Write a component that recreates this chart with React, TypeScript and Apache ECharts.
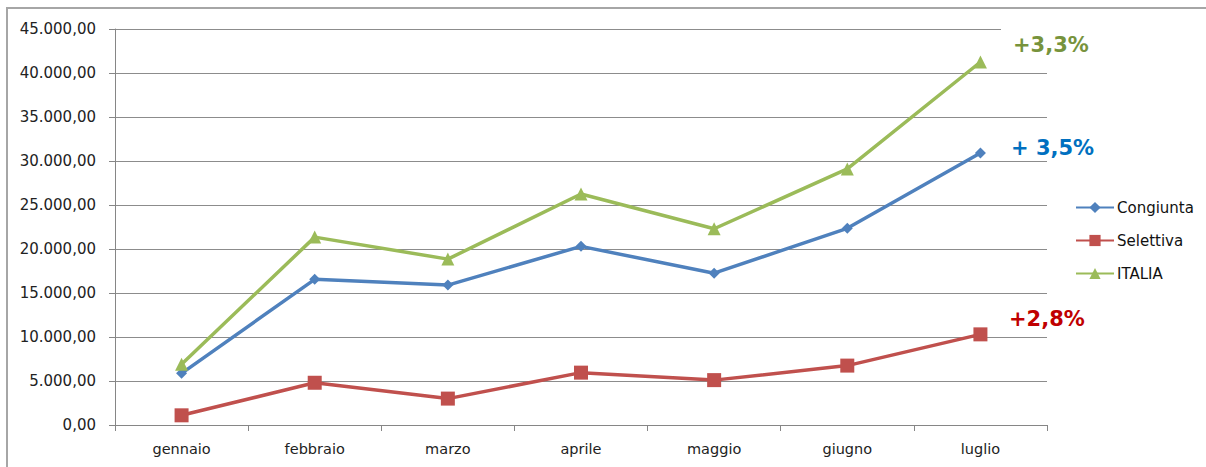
import React, { useEffect, useRef } from "react";
import * as echarts from "echarts";

const months = ["gennaio", "febbraio", "marzo", "aprile", "maggio", "giugno", "luglio"];
const congiunta = [5870, 16550, 15900, 20300, 17250, 22350, 30900];
const selettiva = [1100, 4800, 3000, 5950, 5100, 6750, 10300];
const italia = [6900, 21350, 18850, 26250, 22300, 29100, 41250];
const yTicks = { min: 0, max: 45000, interval: 5000 };
const annotations = [
  { text: "+3,3%", color: "#77933C", x: 1013, y: 45 },
  { text: "+ 3,5%", color: "#0070C0", x: 1011, y: 148 },
  { text: "+2,8%", color: "#C00000", x: 1009, y: 319 },
];

const fmt = (v: number) => {
  const s = v.toFixed(2).split(".");
  const int = s[0].replace(/\B(?=(\d{3})+(?!\d))/g, ".");
  return int + "," + s[1];
};

const FONT = "DejaVu Sans";

export default function App() {
  const ref = useRef<HTMLDivElement>(null);
  useEffect(() => {
    document.body.style.margin = "0";
    const chart = echarts.init(ref.current!, undefined, { renderer: "svg" });
    const mkSeries = (name: string, data: number[], color: string, symbol: string, size: number) => ({
      name,
      type: "line",
      data,
      symbol,
      symbolSize: size,
      showSymbol: true,
      lineStyle: { color, width: 3.5 },
      itemStyle: { color },
      emphasis: { disabled: true },
    });
    chart.setOption({
      animation: false,
      textStyle: { fontFamily: FONT },
      grid: { left: 115, right: 159, top: 29, bottom: 42, containLabel: false },
      xAxis: {
        type: "category",
        data: months,
        boundaryGap: true,
        axisLine: { show: true, lineStyle: { color: "#868686", width: 1 } },
        axisTick: { show: true, length: 6, alignWithLabel: false, lineStyle: { color: "#868686" } },
        axisLabel: { color: "#222", fontSize: 14.5, fontFamily: FONT, margin: 16 },
        splitLine: { show: false },
      },
      yAxis: {
        type: "value",
        min: yTicks.min,
        max: yTicks.max,
        interval: yTicks.interval,
        axisLine: { show: true, lineStyle: { color: "#868686", width: 1 } },
        axisTick: { show: true, length: 6, lineStyle: { color: "#868686" } },
        axisLabel: { color: "#222", fontSize: 15, fontFamily: FONT, margin: 19, formatter: (v: number) => fmt(v) },
        splitLine: { show: true, lineStyle: { color: "#8c8c8c", width: 1 } },
      },
      legend: {
        orient: "vertical",
        left: 1075,
        top: 200,
        padding: 0,
        itemGap: 18,
        itemWidth: 38,
        itemHeight: 14,
        textStyle: { color: "#111", fontSize: 15, fontFamily: FONT, padding: [0, 0, 0, -2] },
        data: ["Congiunta", "Selettiva", "ITALIA"],
      },
      series: [
        mkSeries("Congiunta", congiunta, "#4F81BD", "diamond", 11),
        mkSeries("Selettiva", selettiva, "#C0504D", "rect", 14),
        mkSeries("ITALIA", italia, "#9BBB59", "triangle", 13),
      ],
      graphic: [
        {
          type: "rect",
          shape: { x: 7, y: 8, width: 1220, height: 480 },
          style: { fill: "none", stroke: "#A6A6A6", lineWidth: 2 },
          silent: true,
          z: -10,
        },
        {
          type: "rect",
          shape: { x: 1001, y: 25, width: 50, height: 8 },
          style: { fill: "#fff" },
          silent: true,
          z: 10,
        },
        ...annotations.map((a) => ({
          type: "text",
          x: a.x,
          y: a.y,
          style: {
            text: a.text,
            fill: a.color,
            font: `bold 21px ${FONT}`,
            textVerticalAlign: "middle",
          },
          z: 10,
        })),
      ],
    });
    return () => chart.dispose();
  }, []);
  return <div ref={ref} style={{ width: 1206, height: 467 }} />;
}
